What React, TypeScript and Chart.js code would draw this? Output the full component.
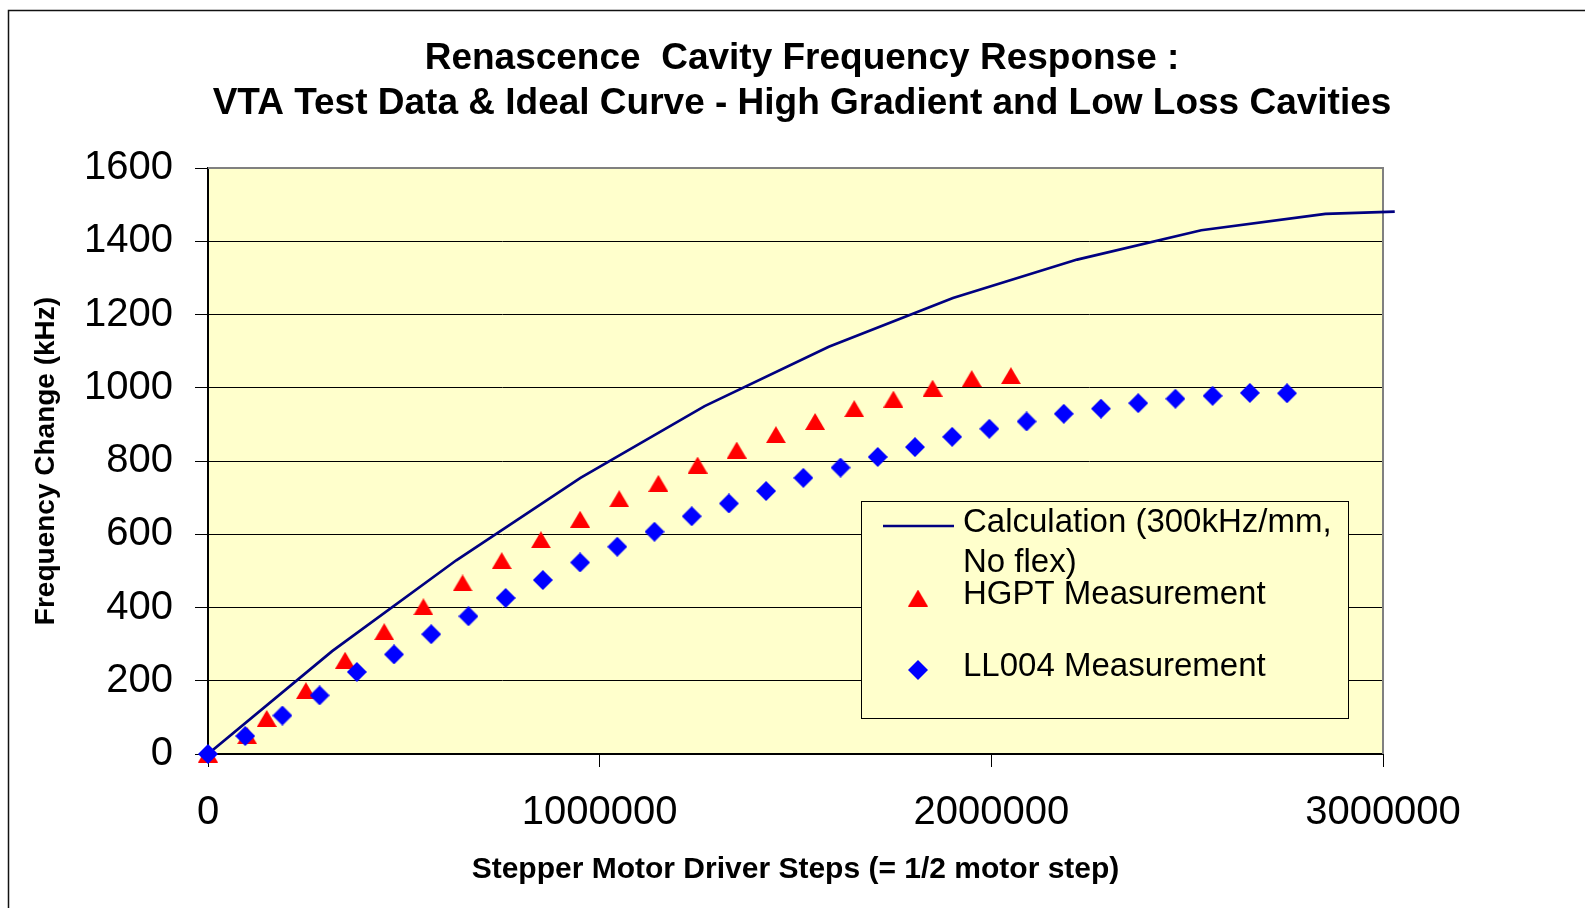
import React, { useEffect, useRef } from 'react';
import { Chart, registerables } from 'chart.js';

Chart.register(...registerables);

// ---------------- data ----------------
const calcSteps = [0, 317000, 634000, 951000, 1268000, 1585000, 1902000, 2219000, 2536000, 2853000, 3030000];
const calcFreq = [0, 281, 529, 754, 950, 1112, 1245, 1350, 1430, 1475, 1481];

const hgptSteps = [0, 100000, 150000, 250000, 350000, 450000, 550000, 650000, 750000, 850000, 950000,
  1050000, 1150000, 1250000, 1350000, 1450000, 1550000, 1650000, 1750000, 1850000, 1950000, 2050000];
const hgptFreq = [0, 50, 97, 173, 256, 334, 402, 467, 528, 585, 641,
  697, 739, 789, 830, 872, 908, 943, 969, 999, 1025, 1033];

const llSteps = [0, 95000, 190000, 285000, 380000, 475000, 570000, 665000, 760000, 855000, 950000,
  1045000, 1140000, 1235000, 1330000, 1425000, 1520000, 1615000, 1710000, 1805000, 1900000,
  1995000, 2090000, 2185000, 2280000, 2375000, 2470000, 2565000, 2660000, 2755000];
const llFreq = [0, 49, 105, 160, 224, 272, 327, 376, 426, 475, 523,
  566, 607, 649, 684, 718, 754, 782, 811, 838, 866,
  888, 908, 929, 943, 958, 970, 978, 986, 985];

const xTickLabels = ['0', '1000000', '2000000', '3000000'];
const yTickLabels = ['0', '200', '400', '600', '800', '1000', '1200', '1400', '1600'];

const seriesLabels = ['Calculation (300kHz/mm, No flex)', 'HGPT Measurement', 'LL004 Measurement'];
const calcLegendLines = ['Calculation (300kHz/mm,', 'No flex)'];

const titleLines = [
  'Renascence  Cavity Frequency Response :',
  'VTA Test Data & Ideal Curve - High Gradient and Low Loss Cavities',
];
const xAxisTitle = 'Stepper Motor Driver Steps (= 1/2 motor step)';
const yAxisTitle = 'Frequency Change (kHz)';

// ---------------- styles ----------------
const FONT = "'Liberation Sans', Arial, Helvetica, sans-serif";
const PLOT_BG = '#FFFFCC';
const LINE_COLOR = '#000080';
const TRI_COLOR = '#FF0000';
const DIA_COLOR = '#0000FF';

const W = 1585;
const H = 908;

function makeTriangle(w: number, h: number, color: string) {
  const c = document.createElement('canvas');
  c.width = w;
  c.height = h;
  const g = c.getContext('2d')!;
  g.fillStyle = color;
  g.beginPath();
  g.moveTo(w / 2, 0);
  g.lineTo(w, h);
  g.lineTo(0, h);
  g.closePath();
  g.fill();
  return c;
}

function makeDiamond(s: number, color: string) {
  const c = document.createElement('canvas');
  c.width = s;
  c.height = s;
  const g = c.getContext('2d')!;
  g.fillStyle = color;
  g.beginPath();
  g.moveTo(s / 2, 0);
  g.lineTo(s, s / 2);
  g.lineTo(s / 2, s);
  g.lineTo(0, s / 2);
  g.closePath();
  g.fill();
  return c;
}

export default function App() {
  const ref = useRef<HTMLCanvasElement | null>(null);

  useEffect(() => {
    if (!ref.current) return;
    const tri = makeTriangle(20, 17, TRI_COLOR);
    const dia = makeDiamond(20, DIA_COLOR);

    const framePlugin = {
      id: 'frameAndBg',
      beforeDraw(chart: any) {
        const { ctx, chartArea: a } = chart;
        ctx.save();
        ctx.fillStyle = '#FFFFFF';
        ctx.fillRect(0, 0, chart.width, chart.height);
        ctx.strokeStyle = '#111111';
        ctx.lineWidth = 1.5;
        ctx.strokeRect(8.5, 10.5, chart.width + 20, chart.height + 20);
        ctx.fillStyle = PLOT_BG;
        ctx.fillRect(a.left, a.top, a.right - a.left, a.bottom - a.top);
        ctx.restore();
      },
      beforeDatasetsDraw(chart: any) {
        const { ctx, chartArea: a } = chart;
        ctx.save();
        ctx.strokeStyle = '#808080';
        ctx.lineWidth = 2;
        ctx.beginPath();
        ctx.moveTo(a.left, a.top);
        ctx.lineTo(a.right, a.top);
        ctx.lineTo(a.right, a.bottom);
        ctx.stroke();
        ctx.restore();
      },
    };

    const legendPlugin = {
      id: 'boxLegend',
      afterDatasetsDraw(chart: any) {
        const ctx = chart.ctx;
        const bx = 861, by = 501, bw = 487, bh = 217;
        ctx.save();
        ctx.fillStyle = PLOT_BG;
        ctx.fillRect(bx, by, bw, bh);
        ctx.strokeStyle = '#000000';
        ctx.lineWidth = 1;
        ctx.strokeRect(bx + 0.5, by + 0.5, bw, bh);
        // line sample
        ctx.strokeStyle = LINE_COLOR;
        ctx.lineWidth = 2.5;
        ctx.beginPath();
        ctx.moveTo(883, 526);
        ctx.lineTo(954, 526);
        ctx.stroke();
        // markers
        ctx.drawImage(tri, 918 - tri.width / 2, 598 - tri.height / 2);
        ctx.drawImage(dia, 918 - dia.width / 2, 670 - dia.height / 2);
        // texts
        ctx.fillStyle = '#000000';
        ctx.font = `33px ${FONT}`;
        ctx.textAlign = 'left';
        ctx.textBaseline = 'middle';
        ctx.fillText(calcLegendLines[0], 963, 523);
        ctx.fillText(calcLegendLines[1], 963, 563);
        ctx.fillText(seriesLabels[1], 963, 595);
        ctx.fillText(seriesLabels[2], 963, 667);
        ctx.restore();
      },
    };

    const chart = new Chart(ref.current, {
      type: 'scatter',
      data: {
        datasets: [
          {
            label: seriesLabels[0],
            data: calcSteps.map((x, i) => ({ x, y: calcFreq[i] })),
            showLine: true,
            borderColor: LINE_COLOR,
            backgroundColor: LINE_COLOR,
            borderWidth: 2.7,
            pointRadius: 0,
            tension: 0,
            clip: false as any,
            order: 3,
          },
          {
            label: seriesLabels[1],
            data: hgptSteps.map((x, i) => ({ x, y: hgptFreq[i] })),
            pointStyle: tri as any,
            pointRadius: 10,
            backgroundColor: TRI_COLOR,
            borderColor: TRI_COLOR,
            clip: false as any,
            order: 2,
          },
          {
            label: seriesLabels[2],
            data: llSteps.map((x, i) => ({ x, y: llFreq[i] })),
            pointStyle: dia as any,
            pointRadius: 10,
            backgroundColor: DIA_COLOR,
            borderColor: DIA_COLOR,
            clip: false as any,
            order: 1,
          },
        ],
      },
      options: {
        responsive: false,
        animation: false,
        devicePixelRatio: 1,
        layout: { padding: { left: 19, right: 0, top: 0, bottom: 0 } },
        plugins: {
          legend: { display: false },
          tooltip: { enabled: false },
          title: {
            display: true,
            text: titleLines,
            color: '#000000',
            font: { family: FONT, size: 37, weight: 'bold', lineHeight: 1.23 },
            padding: { top: 36, bottom: 41 },
          },
        },
        scales: {
          x: {
            type: 'linear',
            position: 'bottom',
            min: 0,
            max: 3000000,
            afterFit: (s: any) => { s.height = 154; },
            ticks: {
              stepSize: 1000000,
              padding: 22,
              color: '#000000',
              font: { family: FONT, size: 40 },
              maxRotation: 0,
              callback: (_v: any, i: number) => xTickLabels[i],
            },
            grid: {
              drawOnChartArea: false,
              drawTicks: true,
              tickLength: 13,
              color: '#000000',
              tickColor: '#000000',
            },
            border: { display: true, color: '#000000', width: 2 },
            title: {
              display: true,
              text: xAxisTitle,
              color: '#000000',
              font: { family: FONT, size: 30, weight: 'bold', lineHeight: 1.2 },
              padding: { top: 0, bottom: 20 },
            },
          },
          y: {
            type: 'linear',
            position: 'left',
            min: 0,
            max: 1600,
            afterFit: (s: any) => { s.width = 189; },
            ticks: {
              stepSize: 200,
              padding: 22,
              color: '#000000',
              font: { family: FONT, size: 40 },
              callback: (_v: any, i: number) => yTickLabels[i],
            },
            grid: {
              drawOnChartArea: true,
              drawTicks: true,
              tickLength: 13,
              color: '#000000',
              tickColor: '#000000',
              lineWidth: 1,
            },
            border: { display: true, color: '#000000', width: 2 },
            title: {
              display: true,
              text: yAxisTitle,
              color: '#000000',
              font: { family: FONT, size: 28, weight: 'bold', lineHeight: 1.2 },
              padding: { top: 10, bottom: 0 },
            },
          },
          yRight: {
            type: 'linear',
            position: 'right',
            display: true,
            afterFit: (s: any) => { s.width = 202; },
            ticks: { display: false },
            grid: { display: false, drawTicks: false },
            border: { display: false },
          },
        },
      },
      plugins: [framePlugin, legendPlugin],
    } as any);

    return () => chart.destroy();
  }, []);

  return (
    <div style={{ position: 'absolute', left: 0, top: 0, width: W, height: H }}>
      <canvas ref={ref} width={W} height={H} style={{ display: 'block' }} />
    </div>
  );
}
